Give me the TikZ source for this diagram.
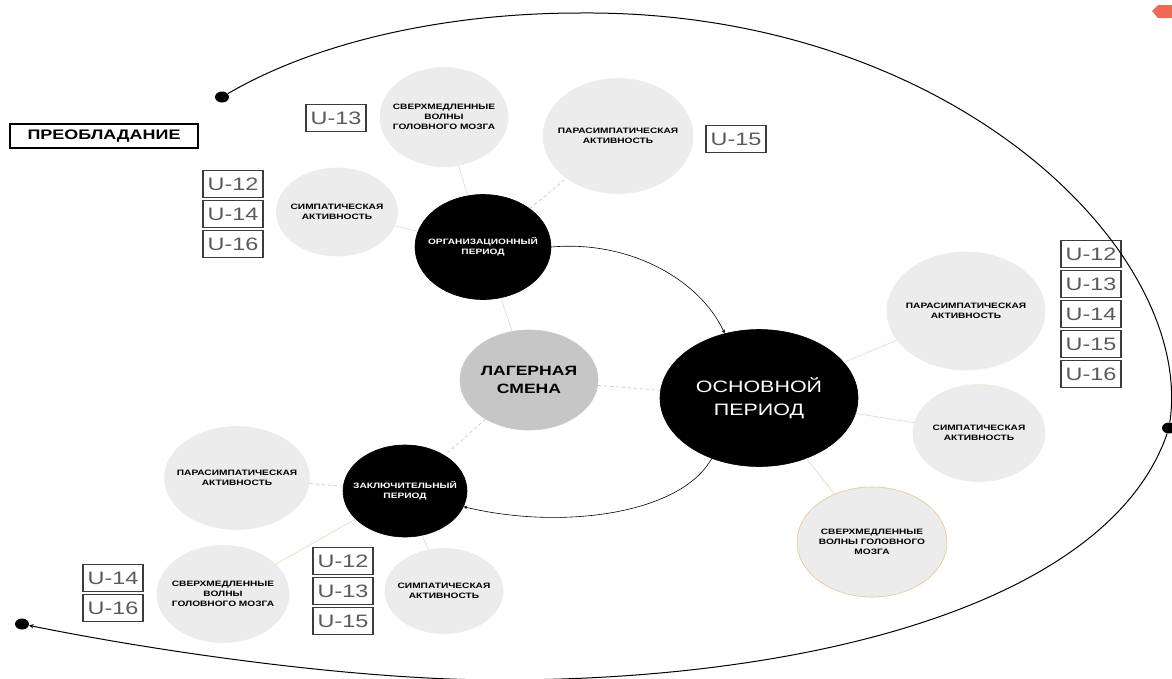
\documentclass[tikz,border=0pt]{standalone}
\usepackage{fontspec}
\newfontfamily\dgfont{Liberation Sans}[FakeStretch=1.3]
\usepackage{xcolor}
\usepackage{tikz}
\usetikzlibrary{arrows}
\usetikzlibrary{shapes.geometric}
\usetikzlibrary{positioning}
\definecolor{satgray}{HTML}{ECECEC}
\definecolor{satedge}{HTML}{F2EADB}
\definecolor{campgray}{HTML}{C6C6C6}
\definecolor{ugray}{HTML}{5A5A5A}
\definecolor{boxgray}{HTML}{3C3C3C}
\definecolor{linkgray}{HTML}{E0DADA}
\definecolor{linkpink}{HTML}{F2B4B4}
\definecolor{linkrose}{HTML}{F4D2D2}
\definecolor{linkpeach}{HTML}{F0D8BC}
\definecolor{sanorange}{HTML}{E8C48E}
\definecolor{badgered}{HTML}{EE6A55}

\begin{document}
\begin{tikzpicture}[x=1pt,y=-1pt,-,>=stealth,node distance=2pt,semithick]
 \tikzstyle{sat}=[ellipse, fill=satgray, draw=satedge, line width=0.6pt, inner xsep=-10pt, inner ysep=0pt, align=center, font=\dgfont\bfseries\fontsize{7.8}{10}\selectfont]
 \tikzstyle{per}=[sat, fill=black, draw=black, text=white]
 \tikzstyle{ubox}=[draw=boxgray, line width=1.1pt, text=ugray, font=\dgfont\fontsize{18}{18}\selectfont, minimum width=60pt, minimum height=27pt, inner sep=0pt]
 \tikzstyle{dot}=[ellipse, fill=black, inner sep=0pt, minimum width=14pt, minimum height=11pt]
 \tikzstyle{link}=[draw=linkgray, line width=0.7pt]
 \tikzstyle{dlink}=[draw=linkpink, line width=0.7pt, dashed]
 \tikzstyle{plink}=[draw=linkrose, line width=0.7pt]
 \tikzstyle{olink}=[draw=linkpeach, line width=0.7pt]
 \useasboundingbox (0,0) rectangle (1172,678);

 % heading and the small tag in the corner
 \node[draw=black, line width=1.3pt, minimum width=188pt, minimum height=24pt, inner sep=0pt, font=\dgfont\bfseries\fontsize{13.8}{14}\selectfont] (pre) at (104,136) {ПРЕОБЛАДАНИЕ};
 \fill[badgered] (1152,11) -- (1158,5) -- (1172,5) -- (1172,18) -- (1158,18) -- cycle;

 % centre of the map
 \node[sat, fill=campgray, draw=campgray, minimum width=138pt, minimum height=100pt, font=\dgfont\bfseries\fontsize{13.5}{18}\selectfont] (camp) at (529,380) {ЛАГЕРНАЯ\\СМЕНА};
 \node[per, minimum width=136pt, minimum height=105pt] (org) at (483,247) {ОРГАНИЗАЦИОННЫЙ\\ПЕРИОД};
 \node[per, minimum width=198pt, minimum height=137pt, font=\dgfont\fontsize{16.5}{23}\selectfont] (osn) at (759,398) {ОСНОВНОЙ\\ПЕРИОД};
 \node[per, minimum width=124pt, minimum height=92pt] (zak) at (405,491) {ЗАКЛЮЧИТЕЛЬНЫЙ\\ПЕРИОД};

 % organisation period
 \node[sat, minimum width=128pt, minimum height=99pt] (orgW) at (444,117) {СВЕРХМЕДЛЕННЫЕ\\ВОЛНЫ\\ГОЛОВНОГО МОЗГА};
 \node[sat, minimum width=150pt, minimum height=115pt] (orgP) at (618,136) {ПАРАСИМПАТИЧЕСКАЯ\\АКТИВНОСТЬ};
 \node[sat, minimum width=121pt, minimum height=88pt] (orgS) at (337,212) {СИМПАТИЧЕСКАЯ\\АКТИВНОСТЬ};

 % main period
 \node[sat, minimum width=158pt, minimum height=118pt] (osnP) at (966,311) {ПАРАСИМПАТИЧЕСКАЯ\\АКТИВНОСТЬ};
 \node[sat, minimum width=132pt, minimum height=97pt] (osnS) at (979,433) {СИМПАТИЧЕСКАЯ\\АКТИВНОСТЬ};
 \node[sat, draw=sanorange, minimum width=150pt, minimum height=110pt] (osnW) at (872,542) {СВЕРХМЕДЛЕННЫЕ\\ВОЛНЫ ГОЛОВНОГО\\МОЗГА};

 % final period
 \node[sat, minimum width=145pt, minimum height=103pt] (zakP) at (237,478) {ПАРАСИМПАТИЧЕСКАЯ\\АКТИВНОСТЬ};
 \node[sat, minimum width=132pt, minimum height=97pt] (zakW) at (223,594) {СВЕРХМЕДЛЕННЫЕ\\ВОЛНЫ\\ГОЛОВНОГО МОЗГА};
 \node[sat, minimum width=118pt, minimum height=85pt] (zakS) at (444,591) {СИМПАТИЧЕСКАЯ\\АКТИВНОСТЬ};

 % labels U
 \node[ubox] (u13a) at (336,118) {U-13};
 \node[ubox] (u15a) at (736,139) {U-15};
 \node[ubox] (u12a) at (233,184) {U-12};
 \node[ubox] (u14a) [below=of u12a] {U-14};
 \node[ubox] (u16a) [below=of u14a] {U-16};
 \node[ubox] (u12b) at (1091,254) {U-12};
 \node[ubox] (u13b) [below=of u12b] {U-13};
 \node[ubox] (u14b) [below=of u13b] {U-14};
 \node[ubox] (u15b) [below=of u14b] {U-15};
 \node[ubox] (u16b) [below=of u15b] {U-16};
 \node[ubox] (u14c) at (113,578) {U-14};
 \node[ubox] (u16c) [below=of u14c] {U-16};
 \node[ubox] (u12c) at (343,561) {U-12};
 \node[ubox] (u13c) [below=of u12c] {U-13};
 \node[ubox] (u15c) [below=of u13c] {U-15};

 \path[link]
   (org) edge (orgW)
   (org) edge (camp);
 \path[dlink]
   (org) edge (orgP)
   (camp) edge (osn)
   (camp) edge (zak)
   (zak) edge (zakP);
 \path[plink]
   (osn) edge (osnP)
   (osn) edge (osnS)
   (zak) edge (zakS);
 \path[olink]
   (org) edge (orgS)
   (osn) edge (osnW)
   (zak) edge (zakW);

 % course of the shift
 \draw[->] (org.east) .. controls (630,240) and (700,280) .. (osn.118);
 \draw[->] (osn.232) .. controls (680,515) and (560,530) .. (zak.-15);

 \node[dot] (dotA) at (222,97) {};
 \node[dot] (dotB) at (1169,428) {};
 \node[dot] (dotC) at (22,624) {};
 \draw[line width=1pt] (dotA) .. controls (320,40) and (450,13) .. (580,13)
   .. controls (950,10) and (1195,250) .. (dotB);
 \draw[->, line width=1pt] (dotB) .. controls (1110,600) and (820,680) .. (500,680)
   .. controls (350,680) and (150,650) .. (dotC);
\end{tikzpicture}
\end{document}
